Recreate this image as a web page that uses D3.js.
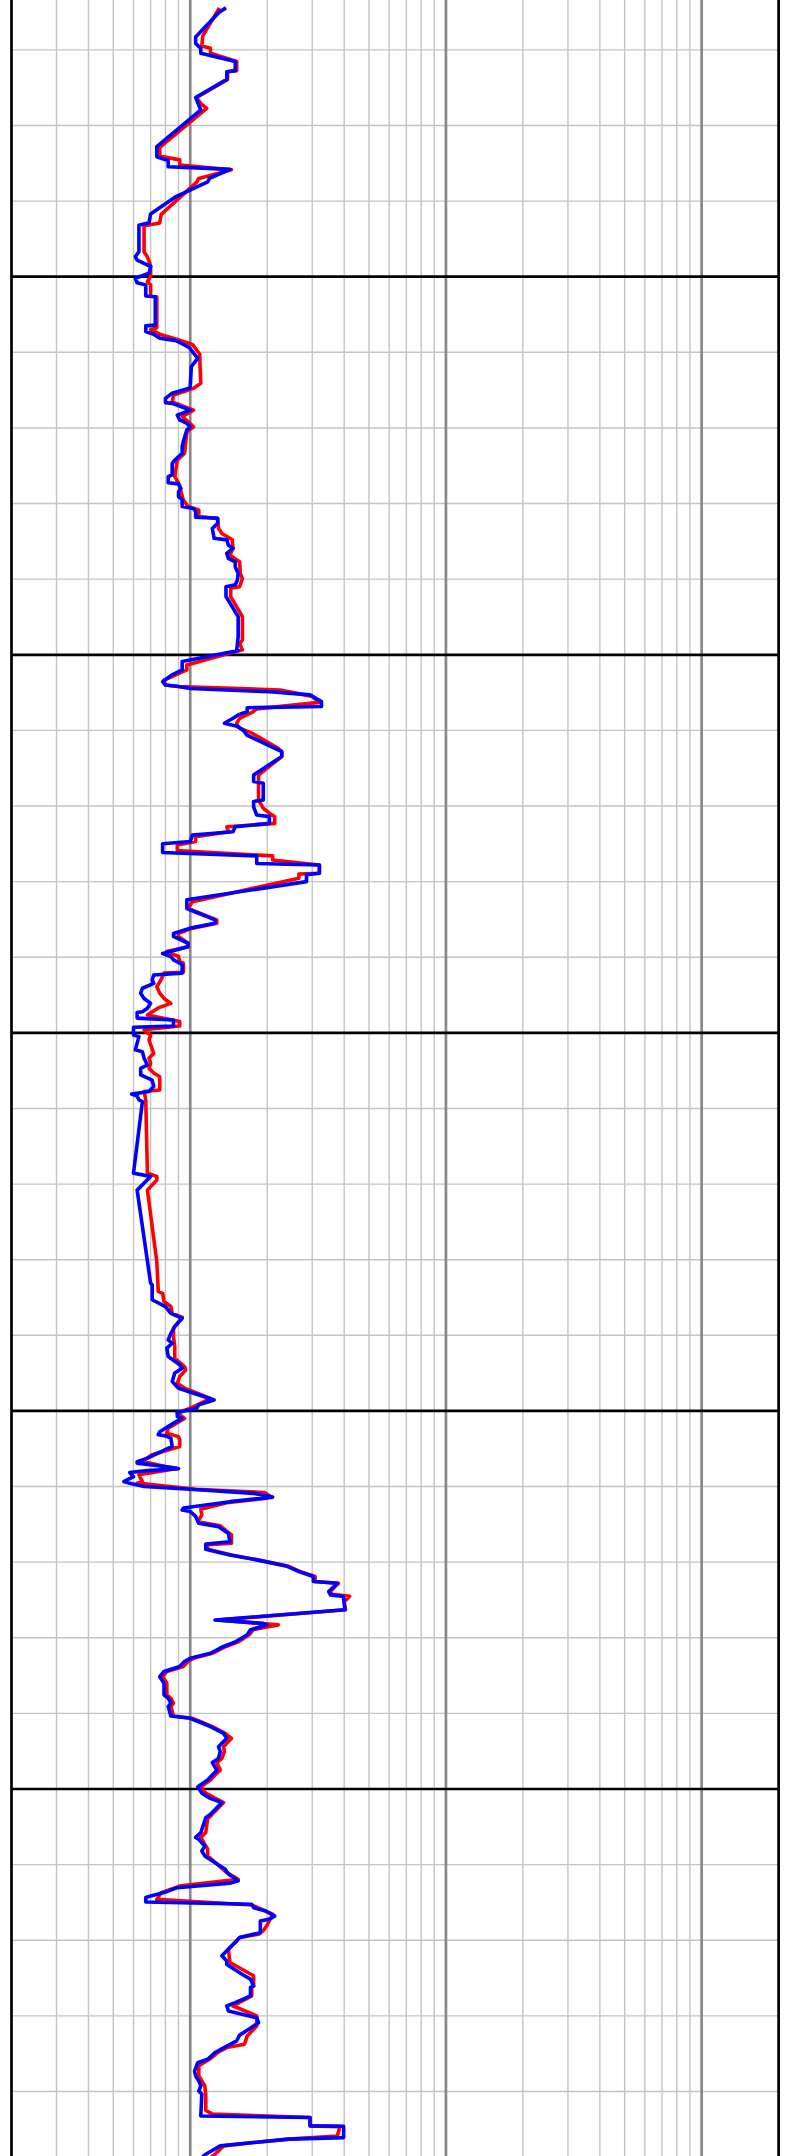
<!DOCTYPE html>
<html>
<head>
<meta charset="utf-8">
<script src="https://cdn.jsdelivr.net/npm/d3@7"></script>
<style>
html,body{margin:0;padding:0;background:#fff;}
svg{display:block;}
</style>
</head>
<body>
<svg id="chart" width="795" height="2156"></svg>
<script>
// ---- axis / grid definitions ----
const valueDomain = [0.2, 200];
const decadeTicks = [1, 10, 100];
const minorTicks = [0.3,0.4,0.5,0.6,0.7,0.8,0.9, 2,3,4,5,6,7,8,9, 20,30,40,50,60,70,80,90];
const majorDepths = [1100, 1200, 1300, 1400, 1500];
const minorDepths = [1040,1060,1080,1120,1140,1160,1180,1220,1240,1260,1280,1320,1340,1360,1380,1420,1440,1460,1480,1520,1540,1560,1580];

// ---- curve data: [depth, value] ----
const redCurve = [
[1028.9,1.30],[1036.3,1.12],[1039.0,1.11],[1039.6,1.20],[1040.9,1.20],[1043.1,1.52],[1045.5,1.52],[1045.8,1.40],[1047.8,1.40],
[1052.6,1.06],[1054.2,1.10],[1055.5,1.16],[1065.8,0.76],[1068.1,0.76],[1069.1,0.91],[1070.5,0.91],[1071.7,1.45],[1074.0,1.08],
[1075.0,1.06],[1083.5,0.77],[1085.8,0.76],[1086.5,0.66],[1093.4,0.66],[1094.8,0.68],[1097.1,0.70],[1099.9,0.70],[1101.3,0.68],
[1102.2,0.70],[1105.0,0.70],[1105.4,0.74],[1113.5,0.74],[1114.0,0.70],[1115.2,0.76],[1116.8,0.91],[1117.9,1.02],[1120.5,1.09],
[1122.0,1.09],[1128.2,1.10],[1129.5,1.03],[1131.3,0.86],[1133.1,0.85],[1135.3,1.03],[1137.0,0.93],[1138.3,0.98],[1139.7,1.03],
[1141.0,0.97],[1146.7,0.95],[1148.5,0.89],[1152.9,0.87],[1154.6,0.90],[1159.1,0.94],[1160.8,0.98],[1161.7,1.08],[1163.5,1.08],
[1163.9,1.28],[1166.6,1.29],[1167.9,1.33],[1169.6,1.46],[1171.8,1.47],[1173.6,1.43],[1174.9,1.52],[1175.4,1.56],[1178.5,1.57],
[1179.8,1.60],[1182.0,1.56],[1182.4,1.44],[1184.6,1.44],[1189.9,1.60],[1196.1,1.60],[1197.0,1.56],[1198.7,1.60],[1202.7,0.97],
[1204.0,0.97],[1206.7,0.79],[1208.0,0.80],[1208.4,0.90],[1209.3,2.25],[1211.0,3.00],[1212.6,3.20],[1214.3,1.82],[1215.2,1.75],
[1216.8,1.56],[1218.1,1.52],[1219.2,1.54],[1220.7,1.74],[1224.7,2.20],[1225.6,2.28],[1226.9,2.28],[1231.8,1.85],[1238.4,1.85],
[1240.6,1.93],[1242.4,2.09],[1242.8,2.14],[1244.6,2.14],[1245.5,1.39],[1246.8,1.41],[1248.1,1.05],[1249.4,1.05],[1250.3,0.89],
[1251.8,0.89],[1253.2,2.10],[1254.3,2.10],[1255.6,3.20],[1257.8,3.20],[1258.0,2.66],[1259.1,2.66],[1265.3,1.02],[1267.1,0.98],
[1270.1,1.27],[1271.0,1.27],[1272.3,1.02],[1273.7,0.90],[1274.5,0.90],[1276.3,0.98],[1277.2,0.98],[1278.5,0.81],[1279.8,0.90],
[1281.2,0.91],[1281.6,0.94],[1284.0,0.94],[1284.2,0.79],[1285.9,0.77],[1287.8,0.74],[1289.5,0.76],[1290.9,0.79],[1292.2,0.84],
[1293.4,0.75],[1295.3,0.68],[1297.0,0.91],[1298.2,0.91],[1299.2,0.66],[1299.7,0.67],[1300.6,0.70],[1301.9,0.69],[1305.4,0.72],
[1306.7,0.69],[1308.0,0.70],[1309.4,0.69],[1310.6,0.72],[1311.6,0.76],[1315.1,0.76],[1315.5,0.66],
[1317.7,0.67],[1337.1,0.68],[1338.0,0.74],[1338.9,0.74],[1341.6,0.68],[1360.5,0.74],[1368.4,0.75],[1368.9,0.78],[1371.1,0.79],
[1372.4,0.84],[1374.2,0.85],[1375.2,0.93],[1378.1,0.86],[1380.3,0.86],[1383.0,0.87],[1386.1,0.87],[1388.3,0.95],[1389.2,0.96],
[1390.9,0.91],[1392.7,0.89],[1394.0,0.95],[1396.7,1.20],[1399.3,1.00],[1400.6,0.89],[1402.0,0.95],[1404.6,0.82],[1405.9,0.81],
[1406.8,0.90],[1407.7,0.91],[1409.4,0.91],[1411.6,0.71],[1413.0,0.66],[1413.4,0.65],[1414.7,0.80],[1415.2,0.89],[1416.9,0.63],
[1418.7,0.65],[1419.1,0.62],[1420.7,1.05],[1421.6,1.95],[1422.5,2.05],[1423.1,1.99],[1424.3,1.39],[1426.0,1.10],[1427.5,1.11],
[1429.3,1.07],[1430.4,1.31],[1432.8,1.45],[1435.0,1.45],[1435.4,1.17],[1436.6,1.17],[1438.1,1.45],[1439.4,1.84],[1441.0,2.40],
[1442.5,2.70],[1443.8,3.08],[1445.1,3.08],[1445.6,3.80],[1447.8,3.52],[1448.5,3.60],[1449.0,4.20],[1450.5,4.00],[1452.6,4.05],
[1455.3,1.28],[1456.6,2.21],[1457.8,1.77],[1459.2,1.70],[1461.0,1.55],[1462.3,1.38],[1464.1,1.22],[1465.4,1.03],[1466.3,0.98],
[1467.6,0.94],[1468.9,0.81],[1470.3,0.78],[1472.0,0.81],[1475.1,0.81],[1476.0,0.84],[1477.3,0.86],[1478.2,0.84],[1480.7,0.86],
[1481.3,1.02],[1482.2,1.10],[1483.5,1.22],[1485.3,1.37],[1486.6,1.45],[1488.8,1.35],[1490.1,1.36],[1491.9,1.33],[1493.0,1.27],
[1495.0,1.31],[1496.3,1.25],[1497.6,1.20],[1499.4,1.10],[1501.1,1.15],[1502.4,1.25],[1503.6,1.35],[1507.9,1.17],[1511.5,1.15],
[1512.8,1.10],[1515.9,1.17],[1517.7,1.17],[1522.1,1.39],[1523.9,1.54],[1525.6,0.92],[1527.4,0.77],[1529.2,0.74],[1530.7,1.74],
[1533.1,2.10],[1536.2,1.99],[1537.5,1.93],[1538.4,1.85],[1539.3,1.56],[1542.4,1.41],[1545.9,1.43],[1549.4,1.77],[1552.1,1.77],
[1552.5,1.74],[1554.7,1.74],[1557.4,1.47],[1560.0,1.82],[1562.7,1.82],[1565.3,1.67],[1567.5,1.63],[1568.4,1.39],[1569.7,1.28],
[1571.5,1.19],[1573.2,1.08],[1575.9,1.08],[1578.5,1.14],[1580.7,1.15],[1585.0,1.15],[1586.0,1.22],[1586.9,2.94],[1589.1,2.94],
[1589.3,3.85],[1591.8,3.76],[1592.6,2.43],[1593.5,1.77],[1594.4,1.35],[1596.6,1.25],[1597.5,1.20]
];

const blueCurve = [
[1028.9,1.38],[1030.0,1.30],[1036.6,1.05],[1038.3,1.05],[1039.6,1.10],[1040.9,1.10],[1043.1,1.50],[1045.5,1.50],[1045.8,1.39],[1047.8,1.39],
[1052.6,1.05],[1054.6,1.08],[1055.9,1.10],[1065.6,0.74],[1068.3,0.74],[1069.3,0.82],[1070.9,0.82],[1071.6,1.43],[1074.0,1.19],
[1074.9,1.17],[1078.8,0.88],[1083.4,0.70],[1085.7,0.69],[1086.4,0.63],[1093.4,0.63],[1094.7,0.61],[1095.6,0.62],[1096.5,0.66],
[1097.3,0.70],[1099.1,0.69],[1100.4,0.61],[1101.6,0.62],[1102.2,0.67],[1105.1,0.67],[1105.3,0.73],[1112.8,0.73],[1113.0,0.67],
[1114.5,0.67],[1115.2,0.72],[1116.3,0.76],[1116.9,0.88],[1118.7,0.99],[1121.6,1.07],[1123.8,1.01],[1129.1,1.00],[1129.5,0.99],
[1130.8,0.85],[1132.2,0.80],[1133.3,0.80],[1133.5,0.85],[1135.3,1.00],[1136.6,0.89],[1137.9,0.91],[1138.8,0.97],[1139.7,1.00],
[1140.5,0.97],[1143.6,0.94],[1144.9,0.93],[1146.7,0.93],[1148.5,0.87],[1149.4,0.85],[1152.4,0.85],[1152.9,0.82],[1154.5,0.82],
[1154.8,0.90],[1156.0,0.92],[1156.9,0.90],[1158.2,0.90],[1158.9,0.93],[1160.8,0.93],[1161.3,1.03],[1162.1,1.05],[1163.6,1.05],
[1163.9,1.28],[1165.2,1.28],[1166.6,1.22],[1169.2,1.24],[1169.6,1.39],[1171.0,1.41],[1171.8,1.47],[1173.2,1.39],[1174.5,1.41],
[1175.4,1.50],[1176.7,1.50],[1178.5,1.54],[1180.2,1.53],[1181.5,1.50],[1182.0,1.38],[1184.6,1.38],[1189.9,1.54],[1195.2,1.54],
[1198.7,1.52],[1198.9,1.54],[1201.8,0.93],[1204.0,0.93],[1205.3,0.85],[1207.1,0.78],[1208.0,0.80],[1208.4,0.90],[1208.9,1.00],
[1209.8,2.05],[1210.6,2.94],[1212.4,3.26],[1213.7,3.26],[1214.0,1.67],[1215.0,1.67],[1215.9,1.54],[1216.8,1.47],[1218.1,1.36],
[1219.0,1.54],[1220.3,1.63],[1221.2,1.66],[1225.6,2.28],[1226.9,2.28],[1231.8,1.77],[1233.5,1.77],[1234.0,1.93],[1238.4,1.93],
[1238.8,1.77],[1240.2,1.77],[1242.4,1.82],[1242.8,2.04],[1244.6,2.04],[1245.5,1.50],[1246.8,1.47],[1247.7,1.02],[1249.4,1.00],
[1250.0,0.78],[1252.3,0.78],[1253.2,1.82],[1255.2,1.82],[1255.6,3.20],[1257.8,3.20],[1258.2,2.85],[1260.0,2.85],[1264.8,0.97],
[1267.1,0.97],[1270.1,1.25],[1271.0,1.25],[1272.3,1.00],[1273.7,0.86],[1274.5,0.86],[1276.3,0.98],[1277.2,0.98],[1279.0,0.78],
[1279.8,0.84],[1280.7,0.86],[1281.6,0.91],[1282.0,0.93],[1284.2,0.93],[1284.7,0.72],[1286.0,0.71],[1286.9,0.72],[1288.2,0.65],
[1289.5,0.64],[1290.9,0.66],[1292.2,0.70],[1293.5,0.68],[1294.4,0.65],[1294.6,0.62],[1296.1,0.62],[1296.6,0.86],[1298.2,0.86],
[1298.5,0.60],[1300.6,0.60],[1301.0,0.63],[1304.5,0.61],[1305.0,0.65],[1306.7,0.66],[1308.5,0.68],[1309.4,0.64],[1311.1,0.64],
[1312.5,0.71],[1314.2,0.72],[1315.5,0.69],
[1316.2,0.59],[1316.7,0.62],[1317.7,0.63],[1318.2,0.65],[1337.1,0.60],[1338.0,0.70],[1341.6,0.62],[1366.2,0.70],[1366.7,0.71],
[1370.6,0.71],[1372.4,0.80],[1374.2,0.84],[1375.5,0.93],[1377.7,0.87],[1379.5,0.84],[1381.2,0.82],[1382.1,0.85],[1383.4,0.81],
[1385.6,0.82],[1387.8,0.91],[1388.7,0.93],[1390.0,0.87],[1392.2,0.85],[1394.0,0.90],[1397.1,1.24],[1398.4,1.08],[1399.3,1.06],
[1400.4,0.89],[1401.5,0.89],[1401.9,0.93],[1403.7,0.84],[1405.5,0.76],[1406.3,0.75],[1406.6,0.80],[1407.2,0.84],[1409.4,0.85],
[1412.5,0.68],[1413.4,0.62],[1413.8,0.62],[1414.7,0.79],[1415.3,0.90],[1415.8,0.68],[1416.3,0.58],[1417.4,0.60],[1418.7,0.55],
[1419.1,0.58],[1420.0,0.66],[1420.7,1.00],[1421.8,1.77],[1422.8,2.10],[1424.0,1.43],[1425.7,0.94],[1426.2,0.93],[1426.6,1.00],
[1427.9,1.05],[1429.7,1.08],[1430.6,1.29],[1432.4,1.41],[1434.6,1.43],[1435.2,1.15],[1436.6,1.15],[1438.1,1.43],[1439.4,1.82],
[1441.0,2.37],[1442.5,2.66],[1443.8,3.03],
[1445.1,3.03],[1445.6,3.76],[1447.8,3.48],[1448.7,3.54],[1449.1,3.97],[1452.6,4.03],[1455.3,1.25],[1456.2,1.93],[1456.6,1.99],
[1457.9,1.72],[1459.2,1.67],[1461.0,1.51],[1462.3,1.35],[1464.1,1.20],[1465.4,1.00],[1466.3,0.95],[1467.6,0.91],[1468.9,0.79],
[1470.3,0.76],[1472.0,0.79],[1475.1,0.79],[1476.0,0.82],[1477.3,0.84],[1478.2,0.82],[1480.7,0.84],[1481.3,1.00],[1482.2,1.08],
[1483.5,1.20],[1485.3,1.35],[1486.6,1.39],[1488.8,1.29],[1490.1,1.31],[1491.9,1.29],[1493.0,1.22],[1495.0,1.27],[1496.3,1.22],
[1497.6,1.17],[1499.4,1.07],[1501.1,1.11],[1502.4,1.19],[1503.6,1.33],[1506.7,1.20],[1507.6,1.15],[1511.5,1.10],[1512.8,1.05],
[1513.3,1.08],[1515.1,1.14],[1516.4,1.11],[1517.7,1.14],[1521.2,1.37],[1522.5,1.41],[1524.3,1.54],[1524.9,1.43],[1526.1,0.89],
[1527.4,0.79],[1528.3,0.70],[1528.7,0.67],[1529.9,0.67],[1530.5,1.74],[1531.4,1.77],[1532.2,1.96],[1533.6,2.14],[1534.4,2.05],
[1534.9,1.88],[1538.0,1.88],[1539.3,1.56],[1540.6,1.50],[1542.8,1.39],[1544.1,1.33],[1545.5,1.39],[1546.4,1.39],[1549.4,1.63],
[1550.3,1.72],[1552.1,1.77],[1552.5,1.72],[1554.7,1.72],[1556.5,1.50],[1557.4,1.39],[1558.7,1.41],[1560.5,1.82],[1561.8,1.85],
[1563.5,1.70],[1565.1,1.56],[1566.6,1.52],[1568.0,1.39],[1569.7,1.25],[1571.5,1.17],[1572.4,1.07],[1574.6,1.04],[1575.9,1.05],
[1577.2,1.08],[1578.5,1.10],[1579.9,1.08],[1580.7,1.11],[1586.5,1.10],[1586.9,2.94],[1589.1,2.94],[1589.2,3.98],[1592.2,3.98],
[1592.6,2.43],[1593.5,1.77],[1594.4,1.31],[1596.6,1.15],[1597.5,1.11]
];

// ---- drawing ----
const W = 795, H = 2156;
const svg = d3.select("#chart");
const x = d3.scaleLog().domain(valueDomain).range([11.5, 778.6]);
const y = d3.scaleLinear().domain([1100, 1500]).range([276.7, 1789]);

const g = svg.append("g");

// minor vertical grid
g.selectAll(".vminor").data(minorTicks).enter().append("line")
  .attr("x1", d => x(d)).attr("x2", d => x(d)).attr("y1", 0).attr("y2", H)
  .attr("stroke", "#c4c4c4").attr("stroke-width", 1.4);
// minor horizontal grid
g.selectAll(".hminor").data(minorDepths).enter().append("line")
  .attr("x1", x(valueDomain[0])).attr("x2", x(valueDomain[1])).attr("y1", d => y(d)).attr("y2", d => y(d))
  .attr("stroke", "#c4c4c4").attr("stroke-width", 1.4);
// decade lines
g.selectAll(".vdec").data(decadeTicks).enter().append("line")
  .attr("x1", d => x(d)).attr("x2", d => x(d)).attr("y1", 0).attr("y2", H)
  .attr("stroke", "#888888").attr("stroke-width", 2.7);
// major horizontal lines
g.selectAll(".hmajor").data(majorDepths).enter().append("line")
  .attr("x1", x(valueDomain[0])).attr("x2", x(valueDomain[1])).attr("y1", d => y(d)).attr("y2", d => y(d))
  .attr("stroke", "#000").attr("stroke-width", 2.7);
// borders
g.selectAll(".border").data(valueDomain).enter().append("line")
  .attr("x1", d => x(d)).attr("x2", d => x(d)).attr("y1", 0).attr("y2", H)
  .attr("stroke", "#000").attr("stroke-width", 2.7);

const line = d3.line().x(d => x(d[1])).y(d => y(d[0]));

svg.append("path").datum(redCurve).attr("d", line)
  .attr("fill", "none").attr("stroke", "#ff0000").attr("stroke-width", 3.6).attr("stroke-linejoin", "round");
svg.append("path").datum(blueCurve).attr("d", line)
  .attr("fill", "none").attr("stroke", "#0000ff").attr("stroke-width", 3.6).attr("stroke-linejoin", "round");
</script>
</body>
</html>
